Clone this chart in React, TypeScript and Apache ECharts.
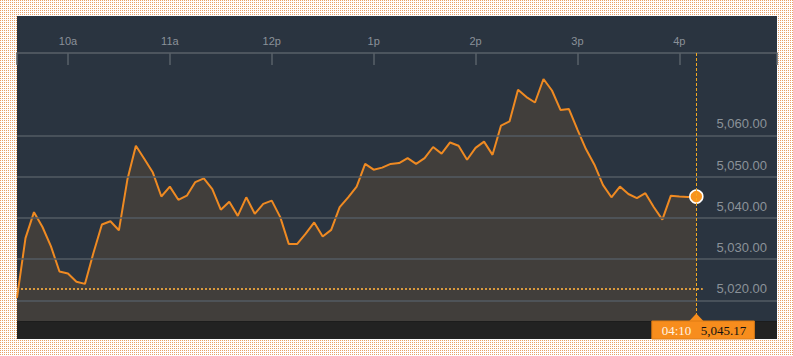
import React, { useEffect, useRef } from "react";
import * as echarts from "echarts";

// minutes after 9:30, 5-minute steps
const STEP_MIN = 5;
const values: number[] = [
  5020.6, 5035.1, 5041.4, 5037.8, 5033.1, 5027.0, 5026.5, 5024.5, 5024.0, 5031.5,
  5038.4, 5039.2, 5037.0, 5049.3, 5057.5, 5054.3, 5051.0, 5045.2, 5047.6, 5044.4,
  5045.4, 5048.7, 5049.6, 5047.0, 5042.0, 5043.9, 5040.5, 5045.0, 5041.0, 5043.4,
  5044.2, 5040.2, 5033.7, 5033.7, 5036.2, 5038.9, 5035.5, 5037.1, 5042.6, 5045.0,
  5047.6, 5053.1, 5051.7, 5052.2, 5053.1, 5053.3, 5054.5, 5053.1, 5054.5, 5057.2,
  5055.6, 5058.3, 5057.5, 5054.1, 5057.0, 5058.5, 5055.3, 5062.4, 5063.4, 5071.1,
  5069.3, 5068.0, 5073.7, 5070.9, 5066.2, 5066.4, 5061.4, 5056.7, 5052.9, 5048.0,
  5045.0, 5047.6, 5045.8, 5044.8, 5046.0, 5042.6, 5039.6, 5045.4, 5045.2, 5045.1,
  5045.17,
];
const prevClose = 5022.84;
const hourTicks: number[] = [30, 90, 150, 210, 270, 330, 390];
const hourLabels: string[] = ["10a", "11a", "12p", "1p", "2p", "3p", "4p"];
const yLabels: number[] = [5020, 5030, 5040, 5050, 5060];
const X_MAX = 447.5;
const Y_MIN = 5015;
const Y_MAX = 5080;

const ORANGE = "#ef8a22";
const fmt2 = (v: number) =>
  v.toLocaleString("en-US", { minimumFractionDigits: 2, maximumFractionDigits: 2 });

export default function App() {
  const ref = useRef<HTMLDivElement>(null);
  useEffect(() => {
    if (!ref.current) return;
    const chart = echarts.init(ref.current, undefined, { renderer: "svg" });
    const pts = values.map((v, i) => [i * STEP_MIN, v]);
    const lastIdx = values.length - 1;
    const lastX = lastIdx * STEP_MIN;
    const lastV = values[lastIdx];
    const data: any[] = pts.map((p, i) =>
      i === lastIdx
        ? {
            value: p,
            symbol: "circle",
            symbolSize: 13,
            itemStyle: { color: "#f7931e", borderColor: "#ffffff", borderWidth: 1.5 },
          }
        : { value: p }
    );
    chart.setOption({
      animation: false,
      grid: { left: 17, right: 16, top: 53, bottom: 35 },
      xAxis: {
        type: "value",
        position: "top",
        min: 0,
        max: X_MAX,
        axisLine: { show: true, lineStyle: { color: "#596068", width: 1.5 } },
        axisTick: {
          show: true,
          inside: true,
          length: 12,
          customValues: [0, ...hourTicks, X_MAX],
          lineStyle: { color: "#596068", width: 1.5 },
        },
        axisLabel: {
          customValues: hourTicks,
          formatter: (v: number) => hourLabels[hourTicks.indexOf(v)] ?? "",
          color: "#8a9199",
          fontSize: 11,
          fontFamily: "Liberation Sans, Arial, sans-serif",
          margin: 7,
        },
        splitLine: { show: false },
      },
      yAxis: {
        type: "value",
        position: "right",
        min: Y_MIN,
        max: Y_MAX,
        axisLine: { show: false },
        axisTick: { show: false },
        splitLine: { show: false },
        axisLabel: {
          customValues: yLabels,
          inside: true,
          margin: 10,
          formatter: (v: number) => fmt2(v),
          color: "#8b9299",
          fontSize: 13,
          fontFamily: "Liberation Sans, Arial, sans-serif",
          verticalAlign: "bottom",
          padding: [0, 0, 5, 0],
        },
      },
      series: [
        {
          type: "line",
          z: 1,
          data: [],
          silent: true,
          markLine: {
            silent: true,
            symbol: "none",
            label: { show: false },
            lineStyle: { color: "#535b63", width: 1.5, type: "solid" },
            data: yLabels.map((v) => ({ yAxis: v })),
          },
        },
        {
          type: "line",
          z: 2,
          data,
          symbol: "none",
          showAllSymbol: true,
          lineStyle: { color: ORANGE, width: 2 },
          areaStyle: { color: "rgba(242,140,30,0.16)", origin: "start" },
          markLine: {
            silent: true,
            symbol: "none",
            label: { show: false },
            data: [
              [
                { coord: [0, prevClose], lineStyle: { color: "#d9993e", width: 2, type: [2, 2] } },
                { coord: [lastX + 3.8, prevClose] },
              ],
              { xAxis: lastX, lineStyle: { color: "#f5a81f", width: 1, type: [3, 2] } },
            ],
          },
        },
      ],
    });
    const [px] = chart.convertToPixel({ gridIndex: 0 }, [lastX, lastV]) as number[];
    const totalMin = 9 * 60 + 30 + lastX;
    let hh = Math.floor(totalMin / 60) % 12;
    if (hh === 0) hh = 12;
    const mm = totalMin % 60;
    const timeStr = `${String(hh).padStart(2, "0")}:${String(mm).padStart(2, "0")}`;
    chart.setOption({
      graphic: [
        { type: "rect", z: 50, shape: { x: 17, y: 321, width: 760, height: 18 }, style: { fill: "#222222" } },
        { type: "rect", z: 50, shape: { x: 17, y: 321, width: 760, height: 1 }, style: { fill: "#1c1c1c" } },
        {
          type: "polygon",
          z: 51,
          shape: { points: [[px - 7.5, 321.5], [px, 313.5], [px + 7.5, 321.5]] },
          style: { fill: "#f78d1d" },
        },
        {
          type: "rect",
          z: 51,
          shape: { x: px - 44.5, y: 321, width: 102.5, height: 18 },
          style: { fill: "#f78d1d", stroke: "#e07c14", lineWidth: 1 },
        },
        {
          type: "text",
          z: 52,
          x: px - 34.6,
          y: 330,
          style: {
            text: timeStr,
            fill: "#fff4e6",
            font: "13px 'Liberation Serif', serif",
            verticalAlign: "middle",
          },
        },
        {
          type: "text",
          z: 52,
          x: px + 4.4,
          y: 330,
          style: {
            text: fmt2(lastV),
            fill: "#111111",
            font: "13px 'Liberation Serif', serif",
            verticalAlign: "middle",
          },
        },
      ],
    });
    return () => chart.dispose();
  }, []);

  return (
    <div
      style={{
        position: "fixed",
        left: 0,
        top: 0,
        width: 793,
        height: 356,
        backgroundColor: "#ffffff",
        backgroundImage:
          "linear-gradient(90deg, transparent 1px, #ffffff 1px), linear-gradient(180deg, #e8a066 1px, #ffffff 1px)",
        backgroundSize: "2px 2px",
        backgroundRepeat: "repeat",
      }}
    >
      <div
        style={{
          position: "absolute",
          left: 17,
          top: 16,
          width: 760,
          height: 323,
          background: "#2a3440",
        }}
      />
      <div ref={ref} style={{ position: "absolute", left: 0, top: 0, width: 793, height: 356 }} />
    </div>
  );
}
